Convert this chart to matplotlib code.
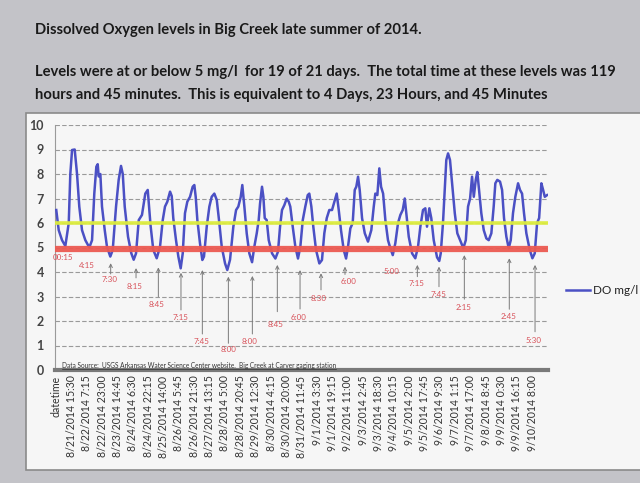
import matplotlib
matplotlib.use("Agg")
import matplotlib.pyplot as plt
from matplotlib.patches import Rectangle

# ---------------- data (hours since 8/21/2014 00:00, DO mg/l) ----------------
hours = [0.0, 2.5, 5.9, 9.3, 12.8, 14.4, 16.2, 18.9, 21.3, 23.6, 26.4, 29.8, 33.9, 36.7,
         39.0, 41.1, 42.5, 43.5, 45.2, 46.9, 49.7, 52.0, 55.4, 57.9, 61.3, 64.0, 66.4, 68.2,
         70.2, 73.6, 77.0, 79.4, 81.8, 84.6, 87.9, 91.3, 93.8, 96.7, 99.5, 103.0, 106.4,
         109.2, 111.5, 113.9, 116.7, 118.4, 120.0, 122.8, 125.2, 127.6, 129.7, 132.0, 134.4,
         137.2, 139.9, 141.6, 143.0, 144.7, 147.4, 149.8, 151.5, 154.3, 157.0, 159.4, 162.1,
         164.6, 166.9, 169.7, 173.1, 175.4, 178.2, 181.6, 184.4, 186.7, 189.2, 190.8, 192.9,
         195.3, 198.0, 200.8, 203.1, 205.6, 207.6, 209.0, 211.0, 212.4, 213.8, 215.8, 217.9,
         221.3, 224.7, 227.4, 229.5, 231.5, 233.9, 236.3, 238.4, 240.0, 242.5, 245.2, 247.9,
         250.3, 252.8, 255.4, 257.9, 259.5, 261.6, 263.6, 266.4, 269.8, 272.5, 274.9, 277.4,
         280.0, 282.8, 285.2, 287.6, 289.7, 292.0, 294.8, 297.2, 299.2, 301.6, 304.0, 306.1,
         307.7, 309.5, 311.2, 313.6, 316.4, 319.7, 323.1, 325.6, 327.2, 329.3, 331.3, 333.1,
         335.2, 337.5, 340.2, 342.6, 345.1, 347.7, 350.5, 352.9, 355.3, 357.4, 359.0, 361.5,
         364.9, 368.2, 371.0, 373.4, 376.1, 378.5, 380.2, 382.6, 384.6, 387.1, 390.5, 392.8,
         394.3, 396.6, 398.4, 400.0, 401.8, 403.8, 405.9, 408.7, 411.3, 414.8, 417.5, 420.0,
         422.3, 424.4, 426.4, 428.2, 430.2, 431.8, 433.6, 435.9, 438.4, 441.1, 443.5, 446.2,
         448.6, 450.3, 452.3, 455.1, 457.2, 459.2, 461.6, 464.0, 466.1, 468.4, 470.8, 473.6,
         475.6, 477.7, 479.7, 482.1, 485.6, 488.3, 490.7, 493.1, 495.2, 497.5, 499.3, 501.0,
         503.4]
do_mgl = [6.53, 5.71, 5.30, 5.06, 6.00, 8.00, 8.98, 9.00, 8.00, 6.67, 5.71, 5.30, 5.00, 5.30,
          7.20, 8.30, 8.40, 7.90, 8.00, 6.67, 5.71, 5.03, 4.63, 4.90, 6.67, 7.76, 8.33, 8.00,
          6.67, 5.44, 4.76, 4.50, 4.76, 6.12, 6.33, 7.20, 7.35, 5.90, 4.90, 4.56, 5.03,
          6.12, 6.67, 6.87, 7.28, 7.10, 6.20, 5.30, 4.63, 4.15, 4.76, 6.40, 6.87,
          7.07, 7.48, 7.55, 7.07, 6.12, 5.17, 4.49, 4.63, 5.85, 6.67, 7.07, 7.20,
          6.94, 6.12, 5.03, 4.35, 4.08, 4.50, 5.85, 6.53, 6.67, 7.07, 7.55, 6.67,
          5.58, 4.76, 4.40, 5.03, 5.58, 6.12, 6.80, 7.48, 7.07, 6.20, 6.12, 5.30,
          4.76, 4.55, 4.83, 5.85, 6.53, 6.73, 7.00, 6.87, 6.67, 5.85, 5.03, 4.55,
          5.03, 6.12, 6.67, 7.14, 7.20, 6.67, 5.85, 4.90, 4.35, 4.49, 5.58, 6.20,
          6.53, 6.53, 6.87, 7.20, 6.53, 5.71, 4.90, 4.55, 5.03, 5.78, 6.00, 7.35,
          7.48, 7.89, 7.35, 6.20, 5.58, 5.24, 5.71, 6.67, 7.20, 7.14, 8.23, 7.48,
          7.20, 6.12, 5.30, 4.97, 4.69, 5.17, 6.00, 6.33, 6.53, 7.00, 6.40, 5.44,
          4.76, 4.56, 5.03, 5.85, 6.53, 6.60, 5.85, 6.60, 6.20, 5.30, 4.60, 4.45,
          4.76, 6.00, 7.35, 8.57, 8.84, 8.57, 7.62, 6.40, 5.58, 5.24, 4.97, 5.30,
          6.67, 7.00, 7.89, 7.07, 7.76, 8.08, 7.35, 6.40, 5.71, 5.37, 5.30, 5.58,
          6.67, 7.62, 7.76, 7.69, 7.35, 6.20, 5.44, 4.97, 5.30, 6.40, 7.07, 7.62,
          7.35, 7.20, 6.40, 5.58, 4.90, 4.56, 4.76, 6.00, 6.20, 7.62, 7.35, 7.07,
          7.14]

tick_labels = ["datetime", "8/21/2014 15:30", "8/22/2014 7:15", "8/22/2014 23:00",
               "8/23/2014 14:45", "8/24/2014 6:30", "8/24/2014 22:15", "8/25/2014 14:00",
               "8/26/2014 5:45", "8/26/2014 21:30", "8/27/2014 13:15", "8/28/2014 5:00",
               "8/28/2014 20:45", "8/29/2014 12:30", "8/30/2014 4:15", "8/30/2014 20:00",
               "8/31/2014 11:45", "9/1/2014 3:30", "9/1/2014 19:15", "9/2/2014 11:00",
               "9/3/2014 2:45", "9/3/2014 18:30", "9/4/2014 10:15", "9/5/2014 2:00",
               "9/5/2014 17:45", "9/6/2014 9:30", "9/7/2014 1:15", "9/7/2014 17:00",
               "9/8/2014 8:45", "9/9/2014 0:30", "9/9/2014 16:15", "9/10/2014 8:00"]
tick_step_hours = 15.75
first_tick_hour = -0.25

yellow_level = 6.0
red_level = 4.95

# trough annotations: label, label position (h, y), arrow (h, y_from, y_to) or None
ann_text = ["00:15", "4:15", "7:30", "8:15", "8:45", "7:15", "7:45", "8:00", "8:00", "8:45",
            "6:00", "8:30", "6:00", "5:00", "7:15", "7:45", "2:15", "2:45", "5:30"]
ann_xy = [(6.6, 4.58), (31.2, 4.26), (54.4, 3.70), (80.8, 3.40), (103.0, 2.69),
          (126.9, 2.15), (149.2, 1.16), (176.5, 0.82), (198.7, 1.16), (225.4, 1.84),
          (248.2, 2.15), (268.8, 2.93), (299.5, 3.63), (344.0, 4.04), (369.7, 3.54),
          (391.8, 3.09), (417.5, 2.56), (463.6, 2.18), (489.3, 1.20)]
ann_arrow = [None, None, (55.8, 3.92, 4.36), (81.8, 3.76, 4.16), (104.7, 2.99, 4.19),
             (127.9, 2.45, 3.97), (149.8, 1.47, 4.08), (176.5, 1.09, 3.81),
             (201.1, 1.47, 3.84), (226.7, 2.38, 4.29), (250.0, 2.49, 4.08),
             (271.5, 3.27, 3.95), (296.1, 3.90, 4.22), None, (370.3, 3.81, 4.29),
             (392.5, 3.40, 4.22), (418.5, 2.89, 4.69), (464.6, 2.48, 4.56),
             (491.0, 1.56, 4.29)]

# ---------------- figure ----------------
plt.rcParams['font.family'] = ['Lato', 'DejaVu Sans']
fig = plt.figure(figsize=(6.4, 4.83), dpi=100)
fig.patch.set_facecolor('#c3c3c8')

W, H = 640.0, 483.0
def fx(px): return px / W
def fy(py): return 1 - py / H

# white chart box (behind the axes)
box = Rectangle((fx(26), fy(470)), fx(640) - fx(26) + 0.01, fy(113) - fy(470),
                transform=fig.transFigure, facecolor='#f6f6f6',
                edgecolor='#8a8a8a', linewidth=1.2, zorder=-10)
fig.patches.append(box)

title_kw = dict(fontsize=10.65, fontweight='bold', color='#1a1a1a', va='center', ha='left')
fig.text(fx(35), fy(30), "Dissolved Oxygen levels in Big Creek late summer of 2014.", **title_kw)
fig.text(fx(35), fy(72), "Levels were at or below 5 mg/l  for 19 of 21 days.  The total time at these levels was 119", **title_kw)
fig.text(fx(35), fy(95), "hours and 45 minutes.  This is equivalent to 4 Days, 23 Hours, and 45 Minutes", **title_kw)

ax = fig.add_axes([fx(55), fy(370), fx(548) - fx(55), fy(125) - fy(370)])
ax.set_zorder(1)
ax.set_facecolor('#f6f6f6')

ax.set_ylim(0, 10)
ax.set_xlim(-1.3, 504.3)
ax.set_yticks(range(0, 11))
ax.yaxis.grid(True, color='#9a9a9a', linestyle=(0, (4, 2)), linewidth=0.8)
ax.set_axisbelow(True)

line, = ax.plot(hours, do_mgl, color='#4b50c4', linewidth=1.8, zorder=3, label='DO mg/l')

ax.axhline(yellow_level, color='#dcec3c', linewidth=2.6, alpha=0.95, zorder=3.5)
ax.axhline(red_level, color='#ec5a52', linewidth=4.5, alpha=0.95, zorder=3.5)

tick_pos = [first_tick_hour + tick_step_hours * i for i in range(len(tick_labels))]
ax.set_xticks(tick_pos)
ax.set_xticklabels(tick_labels, rotation=90, fontsize=7.6, color='#333333')
ax.tick_params(axis='x', length=0, pad=4)
ax.tick_params(axis='y', length=0, pad=8, labelsize=9, labelcolor='#444444')
for lab in ax.get_yticklabels():
    lab.set_fontweight('bold')

for s in ['top', 'right']:
    ax.spines[s].set_visible(False)
ax.spines['left'].set_color('#9a9a9a')
ax.spines['left'].set_linewidth(0.8)
ax.spines['bottom'].set_color('#7a7a7a')
ax.spines['bottom'].set_linewidth(3)

for txt, (lx, ly), arr in zip(ann_text, ann_xy, ann_arrow):
    ax.text(lx, ly, txt, fontsize=5.8, color='#d8525a', ha='center', va='center', zorder=4)
    if arr is not None:
        axh, y0, y1 = arr
        ax.annotate('', xy=(axh, y1), xytext=(axh, y0),
                    arrowprops=dict(arrowstyle='->', color='#7a7a7a', lw=0.7,
                                    shrinkA=0, shrinkB=0, mutation_scale=6), zorder=4)

src = ax.text(6, 0.17, "Data Source:  USGS Arkansas Water Science Center website.  Big Creek at Carver gaging station",
              fontsize=4.7, color='#333333', ha='left', va='center', zorder=4)
fig.canvas.draw()
bb = src.get_window_extent().transformed(ax.transData.inverted())
ax.plot([bb.x0, bb.x1], [bb.y0 + 0.02, bb.y0 + 0.02], color='#333333', linewidth=0.5, zorder=4)

leg = fig.legend(handles=[line], labels=['DO mg/l'], loc='center left',
                 bbox_to_anchor=(fx(566), fy(291)), frameon=False, fontsize=8.5,
                 handlelength=2.0, handletextpad=0.3, borderpad=0, borderaxespad=0)
for t in leg.get_texts():
    t.set_color('#222222')

fig.savefig('out.png', dpi=100, facecolor=fig.get_facecolor())
